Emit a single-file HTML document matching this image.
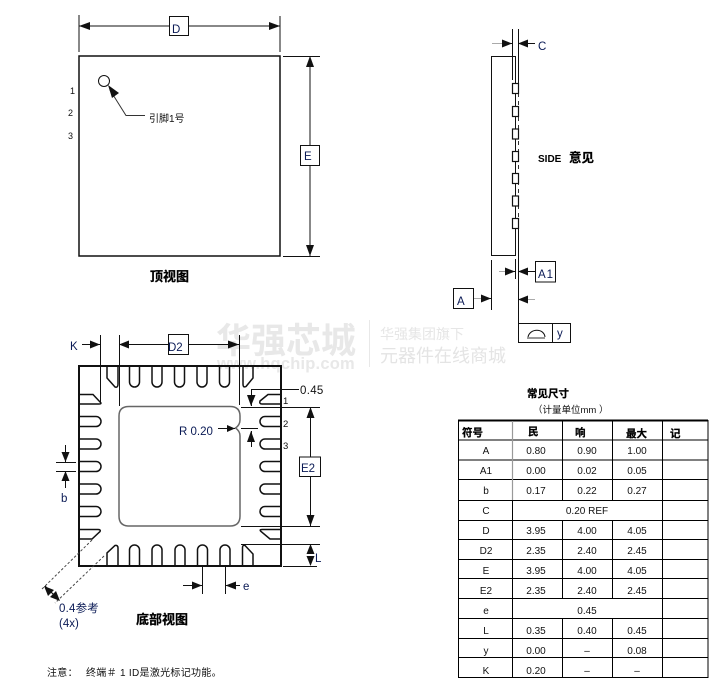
<!DOCTYPE html>
<html><head><meta charset="utf-8">
<style>
html,body{margin:0;padding:0;background:#fff}
svg{display:block}
text{font-family:"Liberation Sans","Noto Sans CJK SC",sans-serif;fill:#111}
.b{font-weight:bold;fill:#000;stroke:#000;stroke-width:.25px}
.n{font-size:10px;text-anchor:middle}
.h{font-size:10.500px;font-weight:bold;fill:#000;stroke:#000;stroke-width:.25px}
.l{font-size:11.500px;fill:#0a1a55}
</style></head><body>
<svg width="721" height="689" viewBox="0 0 721 689" xmlns="http://www.w3.org/2000/svg">
<!-- watermark -->
<g fill="#e8e8e8">
<text x="216" y="353" style="font-size:35px;font-weight:bold;fill:#e8e8e8;letter-spacing:0">华强芯城</text>
<text x="217" y="369" style="font-size:16.500px;font-weight:bold;fill:#e8e8e8;letter-spacing:.2px">www.hqchip.com</text>
<rect x="369" y="320" width="1" height="47"/>
<text x="380" y="339" style="font-size:14px;fill:#e6e6e6">华强集团旗下</text>
<text x="380" y="362" style="font-size:18px;fill:#e4e4e4">元器件在线商城</text>
</g>

<g fill="none" stroke="#111" stroke-width="1">
<!-- top view -->
<rect x="79" y="56" width="201" height="200" stroke-width="1.500"/>
<path d="M79 15V52M280 16V52M79 26H169M188 26H280M283 56.500H320M283 256.500H320M310 56V145M310 165V256"/>
<circle cx="104" cy="81" r="5.500"/>
<path d="M110 90L126 115.500H145" stroke="#333"/>
<rect x="169.500" y="16.500" width="19" height="19"/>
<rect x="300.500" y="145.500" width="19" height="20"/>

<!-- side view -->
<rect x="491.500" y="56.500" width="24" height="199"/>
<path d="M512.500 29V80M518.500 29V83M518.500 228V323M515.500 93V106M515.500 116V129M515.500 139V151M515.500 161V173M515.500 183V196M515.500 206V218"/>
<path d="M518.500 93V228" stroke-dasharray="4 4" stroke="#333"/>
<path d="M503 43.500H512M518 43.500H535M515.500 259V279M491.500 260V310M505 271.500H515M518 271.500H536M473 298.500H491M518 299.500H526"/>
<path d="M492 43.500H504M499 271.500H506M473 298.500H484M526 299.500H535" stroke="#aaa"/>
<g fill="#fff" stroke-width="1.200">
<rect x="512.500" y="83.500" width="6" height="10"/>
<rect x="512.500" y="106.500" width="6" height="10"/>
<rect x="512.500" y="129" width="6" height="10"/>
<rect x="512.500" y="151.500" width="6" height="10"/>
<rect x="512.500" y="173.500" width="6" height="10"/>
<rect x="512.500" y="196" width="6" height="10"/>
<rect x="512.500" y="218.500" width="6" height="10"/>
</g>
<rect x="535.500" y="261.500" width="20" height="20.500"/>
<rect x="453.500" y="288.500" width="20" height="20"/>
<rect x="518.500" y="323.500" width="52" height="19"/>
<path d="M552.500 323V342M528 337C530 328 544 328 545 337"/>
<path d="M527 338H545" stroke="#777" stroke-width="1.500"/>

<!-- bottom view body -->
<path d="M79 366H281V566H79Z" stroke-width="2"/>
<path d="M129 406.500H230Q240 406.500 240 416V420Q240 425 235.500 428Q240 431 240 436V516Q240 526 230 526H129Q119 526 119 516V416Q119 406.500 129 406.500Z" stroke="#666" stroke-width="1.500"/>

<g stroke-width="1.500">
<!-- top pads -->
<path d="M107 366V378L115 387Q118 388 118 384V366"/>
<path d="M129.500 366V382a5 5 0 0 0 10 0V366M152 366V382a5 5 0 0 0 10 0V366M174.500 366V382a5 5 0 0 0 10 0V366M197 366V382a5 5 0 0 0 10 0V366M219.500 366V382a5 5 0 0 0 10 0V366"/>
<path d="M243 366V384Q243 388 246 386.500L253 378V366"/>
<!-- bottom pads -->
<path d="M107 566V553L115 545.500Q118 545 118 548V566"/>
<path d="M129.500 566V550a5 5 0 0 1 10 0V566M152 566V550a5 5 0 0 1 10 0V566M197.500 566V550a5 5 0 0 1 10 0V566M220 566V550a5 5 0 0 1 10 0V566M175 566V550a5 5 0 0 1 10 0V566"/>
<path d="M242.500 566V548Q242.500 544.500 245 545.500L253 554V566"/>
<!-- left pads -->
<path d="M79 394.500H93L101 403Q101 404 99 404H79"/>
<path d="M79 416.500H96a5 5 0 0 1 0 10H79M79 439H96a5 5 0 0 1 0 10H79M79 461.500H96a5 5 0 0 1 0 10H79M79 484H96a5 5 0 0 1 0 10H79M79 506.500H96a5 5 0 0 1 0 10H79"/>
<path d="M79 529.500H98Q101 529.500 100 531.500L92 539H79"/>
<!-- right pads -->
<path d="M281 394.500H268L260 401Q259 404 262 404H281"/>
<path d="M281 416.500H265a5 5 0 0 0 0 10H281M281 439H265a5 5 0 0 0 0 10H281M281 461.500H265a5 5 0 0 0 0 10H281M281 484H265a5 5 0 0 0 0 10H281M281 506.500H265a5 5 0 0 0 0 10H281"/>
<path d="M281 529.500H262Q259 529.500 261 531.500L270 539H281"/>
</g>

<!-- bottom dims -->
<path d="M100.500 335V404M119.500 335V406M239.500 335V405M82 344.500H100M119 344.500H168M188 344.500H239"/>
<rect x="168.500" y="334.500" width="20" height="20" fill="#fff"/>
<path d="M251.500 389.500H299M251.500 389V406M241 407.500H320M310.500 407V457M310.500 476V526M241 526.500H320M241 544.500H320M283 566.500H317M218 428.500H235M241 428.500H258M251.500 431V447"/>
<rect x="299.500" y="457" width="21" height="19.500"/>
<path d="M56 462.500H76M56 471.500H76M65.500 445V462M65.500 471V488"/>
<path d="M202.500 567V594M225.500 567V594M183 585.500H202M225 585.500H240"/>
<path d="M92 540L41 590M104 556L55 603" stroke="#444" stroke-dasharray="2.500 2"/>
<path d="M45 586L59 600" stroke-width="1.200"/>
</g>

<!-- arrowheads -->
<g fill="#111">
<polygon points="79,26 90,22 90,30"/><polygon points="280,26 269,22 269,30"/>
<polygon points="310,56 306,67 314,67"/><polygon points="310,256 306,245 314,245"/>
<polygon points="108,85 119,93 112,98"/>
<polygon points="512,43.500 502,39.500 502,47.500"/><polygon points="518,43.500 528,39.500 528,47.500"/>
<polygon points="515,271.500 505,267.500 505,275.500"/><polygon points="518,271.500 528,267.500 528,275.500"/>
<polygon points="491,298.500 481,294.500 481,302.500"/><polygon points="518,299.500 528,295.500 528,303.500"/>
<polygon points="100,344.500 90,340.500 90,348.500"/><polygon points="119,344.500 129,340.500 129,348.500"/>
<polygon points="239,344.500 228,340.500 228,348.500"/>
<polygon points="251,406 247,395 255.500,395"/><polygon points="310.500,407 306.500,418 314.500,418"/>
<polygon points="310.500,526 306.500,515 314.500,515"/>
<polygon points="310.500,544 306.500,554 314.500,554"/><polygon points="310.500,566 306.500,556 314.500,556"/>
<polygon points="235,428.500 227,425 227,432"/>
<polygon points="251,431 247,442 255,442"/>
<polygon points="65.500,462 61.500,452 69.500,452"/><polygon points="65.500,471 61.500,481 69.500,481"/>
<polygon points="202,585.500 192,581.500 192,589.500"/><polygon points="225.500,585.500 236,581.500 236,589.500"/>
<polygon points="44,586 54,590 48,596"/><polygon points="60,601 50,597 56,591"/>
</g>

<!-- table -->
<g stroke="#000" stroke-width="1" fill="none">
<rect x="458.500" y="420.500" width="249.500" height="257"/>
<path d="M458 420.500H708" stroke-width="2"/>
<path d="M458 440H708M458 460H708M458 479.500H708M458 500.500H708M458 520.500H708M458 539.500H708M458 559.500H708M458 578.500H708M458 598.500H708M458 618.500H708M458 638.500H708M458 657.500H708"/>
<path d="M512.500 420V677M662.500 420V677"/>
<path d="M562.500 420V500M612.500 420V500M562.500 520V598M612.500 520V598M562.500 618V677M612.500 618V677"/>
</g>
<path d="M512.500 421V500" stroke="#999" stroke-width="1.200"/>

<g>
<text x="462" y="436" class="h">符号</text>
<text x="528" y="435" class="h">民</text>
<text x="575" y="436" class="h">响</text>
<text x="626" y="437" class="h">最大</text>
<text x="670" y="437" class="h">记</text>
</g>
<g class="n">
<text x="486" y="454">A</text><text x="536" y="454">0.80</text><text x="587" y="454">0.90</text><text x="637" y="454">1.00</text>
<text x="486" y="474">A1</text><text x="536" y="474">0.00</text><text x="587" y="474">0.02</text><text x="637" y="474">0.05</text>
<text x="486" y="494">b</text><text x="536" y="494">0.17</text><text x="587" y="494">0.22</text><text x="637" y="494">0.27</text>
<text x="486" y="514">C</text><text x="587" y="514">0.20 REF</text>
<text x="486" y="534">D</text><text x="536" y="534">3.95</text><text x="587" y="534">4.00</text><text x="637" y="534">4.05</text>
<text x="486" y="554">D2</text><text x="536" y="554">2.35</text><text x="587" y="554">2.40</text><text x="637" y="554">2.45</text>
<text x="486" y="574">E</text><text x="536" y="574">3.95</text><text x="587" y="574">4.00</text><text x="637" y="574">4.05</text>
<text x="486" y="594">E2</text><text x="536" y="594">2.35</text><text x="587" y="594">2.40</text><text x="637" y="594">2.45</text>
<text x="486" y="614">e</text><text x="587" y="614">0.45</text>
<text x="486" y="634">L</text><text x="536" y="634">0.35</text><text x="587" y="634">0.40</text><text x="637" y="634">0.45</text>
<text x="486" y="654">y</text><text x="536" y="654">0.00</text><text x="587" y="654">–</text><text x="637" y="654">0.08</text>
<text x="486" y="674">K</text><text x="536" y="674">0.20</text><text x="587" y="674">–</text><text x="637" y="674">–</text>
</g>
<text x="527" y="397" class="h">常见尺寸</text>
<text x="533" y="413" style="font-size:9.500px">（计量单位mm ）</text>

<!-- labels -->
<text x="172" y="33" class="l">D</text>
<text x="304" y="160" class="l">E</text>
<text x="70" y="94" style="font-size:9px">1</text>
<text x="68" y="116" style="font-size:9px">2</text>
<text x="68" y="139" style="font-size:9px">3</text>
<text x="149" y="122" style="font-size:10px">引脚1号</text>
<text x="150" y="281" class="b" style="font-size:13px">顶视图</text>
<text x="538" y="50" class="l">C</text>
<text x="538" y="162" class="b" style="font-size:10px;stroke-width:0">SIDE</text>
<text x="569" y="162" class="b" style="font-size:12.500px">意见</text>
<text x="538" y="278" class="l" style="letter-spacing:1px">A1</text>
<text x="457" y="305" class="l">A</text>
<text x="557" y="337" class="l">y</text>
<text x="70" y="350" class="l">K</text>
<text x="168" y="351" class="l">D2</text>
<text x="300" y="394" class="l" style="letter-spacing:.3px;fill:#111">0.45</text>
<text x="179" y="435" class="l" style="letter-spacing:0">R 0.20</text>
<text x="301" y="472" class="l">E2</text>
<text x="283" y="404" style="font-size:9.500px">1</text>
<text x="283" y="427" style="font-size:9.500px">2</text>
<text x="283" y="449" style="font-size:9.500px">3</text>
<text x="61" y="502" class="l">b</text>
<text x="243" y="590" class="l">e</text>
<text x="315" y="562" class="l">L</text>
<text x="59" y="612" class="l" style="letter-spacing:.2px">0.4参考</text>
<text x="59" y="627" class="l">(4x)</text>
<text x="136" y="624" class="b" style="font-size:13px">底部视图</text>
<text x="47" y="676" style="font-size:10px;letter-spacing:.3px">注意：</text>
<text x="86" y="676" style="font-size:10px;letter-spacing:.3px">终端＃ 1 ID是激光标记功能。</text>
</svg>
</body></html>
